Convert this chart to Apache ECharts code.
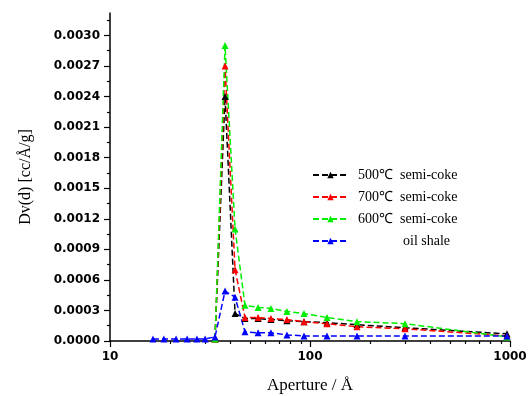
<!DOCTYPE html>
<html><head><meta charset="utf-8">
<script src="https://cdn.jsdelivr.net/npm/echarts@6/dist/echarts.min.js"></script>
<style>html,body{margin:0;padding:0;background:#fff}#c{width:528px;height:396px}</style>
</head><body><div id="c"></div>
<script>
// Pore aperture (Å) sample points
const aperture = [33.5, 37.6, 42.2, 47.3, 55, 63.8, 76.7, 93.3, 121.6, 171.8, 298.5, 966];
const apertureShale = [16.4, 18.6, 21.4, 24.3, 27.2, 29.9, 33.5, 37.6, 42.2, 47.3, 55, 63.8, 76.7, 93.3, 121.6, 171.8, 298.5, 966];
// Dv(d) values
const coke500 = [0.00002, 0.0024, 0.00027, 0.00022, 0.00022, 0.00021, 0.0002, 0.00019, 0.00018, 0.00016, 0.00013, 0.00007];
const coke700 = [0.00002, 0.0027, 0.0007, 0.00023, 0.00023, 0.00022, 0.00021, 0.00019, 0.00017, 0.00014, 0.00012, 0.00005];
const coke600 = [0.00002, 0.0029, 0.0011, 0.00035, 0.00033, 0.00032, 0.00029, 0.00027, 0.00023, 0.00019, 0.00017, 0.00004];
const oilShale = [0.00002, 0.00002, 0.00002, 0.00002, 0.00002, 0.00002, 0.00004, 0.00049, 0.00043, 0.00009, 0.00008, 0.00008, 0.00006, 0.00005, 0.00005, 0.00005, 0.00005, 0.00005];
const seriesNames = ['500\u2103  semi-coke', '700\u2103  semi-coke', '600\u2103  semi-coke', 'oil shale'];
const seriesColors = ['#000000', '#ff0000', '#00ee00', '#0000ff'];
// Axis ticks
const yTickValues = [0, 0.0003, 0.0006, 0.0009, 0.0012, 0.0015, 0.0018, 0.0021, 0.0024, 0.0027, 0.0030];
const yMinorTickValues = [0.00015, 0.00045, 0.00075, 0.00105, 0.00135, 0.00165, 0.00195, 0.00225, 0.00255, 0.00285, 0.00315];
const xTickValues = [10, 100, 1000];
const xMinorTickValues = [20, 30, 40, 50, 60, 70, 80, 90, 200, 300, 400, 500, 600, 700, 800, 900];

const chart = echarts.init(document.getElementById('c'), null, {renderer: 'canvas'});
const tickFont = {fontFamily: 'DejaVu Sans', fontWeight: 'bold', fontSize: 12, color: '#000'};
const serifFont = {fontFamily: 'Liberation Serif', fontSize: 14, color: '#000'};
const titleFont = {fontFamily: 'Liberation Serif', fontSize: 16, color: '#000'};
const axisLine = {show: true, lineStyle: {color: '#000', width: 1.5}};

function mk(name, xs, ys, color) {
  return {
    name: name, type: 'line', xAxisIndex: 0, yAxisIndex: 0,
    data: xs.map((x, i) => [x, ys[i]]),
    symbol: 'triangle', symbolSize: 7,
    itemStyle: {color: color},
    lineStyle: {color: color, width: 1.5, type: [6, 3]},
    animation: false
  };
}

chart.setOption({
  backgroundColor: '#fff',
  animation: false,
  grid: {left: 110, right: 18, top: 13, bottom: 55, containLabel: false, outerBoundsMode: 'none'},
  legend: {
    data: seriesNames, orient: 'vertical', left: 307, top: 163,
    itemWidth: 35, itemHeight: 8, itemGap: 8,
    formatter: n => n === 'oil shale' ? '{o|' + n + '}' : '{n|' + n + '}',
    textStyle: Object.assign({}, serifFont, {rich: {
      n: Object.assign({}, serifFont, {padding: [0, 0, 0, 5]}),
      o: Object.assign({}, serifFont, {padding: [0, 0, 0, 50]})
    }})
  },
  xAxis: [{
    type: 'log', logBase: 10, min: 10, max: 1000, position: 'bottom',
    name: 'Aperture / \u00c5', nameLocation: 'middle', nameGap: 36, nameTextStyle: Object.assign({}, titleFont, {fontSize: 17}),
    axisLine: axisLine,
    axisTick: {show: true, inside: false, length: 6, customValues: xTickValues, lineStyle: {color: '#000', width: 1.2}},
    axisLabel: {show: true, customValues: xTickValues, margin: 10, ...tickFont, formatter: v => String(Math.round(v))},
    splitLine: {show: false}, minorTick: {show: false}
  }, {
    type: 'log', logBase: 10, min: 10, max: 1000, position: 'bottom',
    axisLine: {show: false},
    axisTick: {show: true, inside: false, length: 3, customValues: xMinorTickValues, lineStyle: {color: '#000', width: 1.2}},
    axisLabel: {show: false}, splitLine: {show: false}
  }],
  yAxis: [{
    type: 'value', min: 0, max: 0.00322, position: 'left',
    name: 'Dv(d) [cc/\u00c5/g]', nameLocation: 'middle', nameGap: 76, nameRotate: 90, nameTextStyle: titleFont,
    axisLine: axisLine,
    axisTick: {show: true, inside: false, length: 6, customValues: yTickValues, lineStyle: {color: '#000', width: 1.2}},
    axisLabel: {show: true, customValues: yTickValues, margin: 10, ...tickFont, formatter: v => v.toFixed(4)},
    splitLine: {show: false}
  }, {
    type: 'value', min: 0, max: 0.00322, position: 'left',
    axisLine: {show: false},
    axisTick: {show: true, inside: false, length: 3, customValues: yMinorTickValues, lineStyle: {color: '#000', width: 1.2}},
    axisLabel: {show: false}, splitLine: {show: false}
  }],
  series: [
    mk(seriesNames[0], aperture, coke500, seriesColors[0]),
    mk(seriesNames[1], aperture, coke700, seriesColors[1]),
    mk(seriesNames[2], aperture, coke600, seriesColors[2]),
    mk(seriesNames[3], apertureShale, oilShale, seriesColors[3])
  ]
});
</script></body></html>
